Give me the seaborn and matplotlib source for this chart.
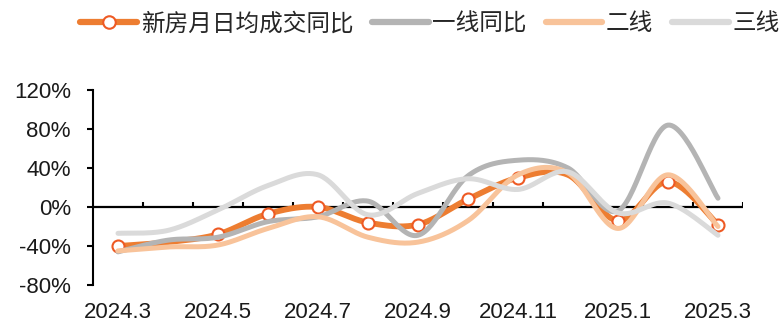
import numpy as np
import pandas as pd
import matplotlib
matplotlib.use("Agg")
import matplotlib.pyplot as plt
from matplotlib.lines import Line2D
from matplotlib.ticker import FuncFormatter
import seaborn as sns

# ---- data ----
months = ["2024.3", "2024.4", "2024.5", "2024.6", "2024.7", "2024.8", "2024.9",
          "2024.10", "2024.11", "2024.12", "2025.1", "2025.2", "2025.3"]
new_home = [-40, -36, -28, -7, 0, -16, -18, 8, 30, 33, -14, 26, -18]
tier1 = [-46, -34, -31, -15, -10, 6, -29, 32, 48, 40, -4, 84, 9]
tier2 = [-45, -41, -39, -22, -10, -31, -36, -14, 33, 35, -22, 33, -20]
tier3 = [-27, -24, -3, 22, 33, -8, 14, 29, 18, 36, -6, 4, -29]
series_names = ["新房月日均成交同比", "一线同比", "二线", "三线"]
colors = ["#ED7D31", "#B4B4B4", "#F8C39A", "#DADADA"]
marker_edge = "#EE5A24"
# markers that are hidden under the other lines in the reference
covered_markers = ["2024.4", "2024.12"]

sns.set_theme(style="white")
plt.rcParams["font.family"] = ["Liberation Sans", "Noto Sans CJK SC", "DejaVu Sans"]


def smooth(vals, n=30):
    """Bezier smoothing (Catmull-Rom style) through the data points."""
    y = np.asarray(vals, dtype=float) / 100.0
    x = np.arange(len(y), dtype=float)
    P = np.column_stack([x, y])
    out = []
    for i in range(len(P) - 1):
        p0 = P[i - 1] if i > 0 else P[i]
        p1, p2 = P[i], P[i + 1]
        p3 = P[i + 2] if i + 2 < len(P) else P[i + 1]
        c1 = p1 + (p2 - p0) / 6.0
        c2 = p2 - (p3 - p1) / 6.0
        t = np.linspace(0, 1, n, endpoint=(i == len(P) - 2))[:, None]
        seg = ((1 - t) ** 3) * p1 + 3 * ((1 - t) ** 2) * t * c1 + 3 * (1 - t) * t ** 2 * c2 + t ** 3 * p2
        out.append(seg)
    pts = np.vstack(out)
    return pd.DataFrame({"x": pts[:, 0], "y": pts[:, 1]})


fig = plt.figure(figsize=(7.84, 3.23), dpi=100)
ax = fig.add_axes([93 / 784, 1 - 285 / 323, 650 / 784, 195 / 323])

all_series = [new_home, tier1, tier2, tier3]
widths = [4.2, 3.6, 3.6, 3.6]
for k, (vals, col, lw) in enumerate(zip(all_series, colors, widths)):
    df = smooth(vals)
    sns.lineplot(data=df, x="x", y="y", sort=False, estimator=None, ax=ax,
                 color=col, linewidth=lw, zorder=2 + k * 2, solid_capstyle="round")
    if k == 0:
        pts = pd.DataFrame({"x": np.arange(len(vals)), "y": np.asarray(vals) / 100.0,
                            "m": months})
        pts = pts[~pts["m"].isin(covered_markers)]
        sns.scatterplot(data=pts, x="x", y="y", ax=ax, s=75, color="white",
                        edgecolor=marker_edge, linewidth=1.5, zorder=3)

ax.set_xlim(-0.5, len(months) - 0.5)
ax.set_ylim(-0.8, 1.2)
ax.set_yticks(np.arange(-0.8, 1.21, 0.4))
ax.yaxis.set_major_formatter(FuncFormatter(lambda v, p: f"{v*100:.0f}%"))
ax.set_xticks(range(0, len(months), 2))
ax.set_xticklabels(months[::2])
ax.set_xlabel("")
ax.set_ylabel("")

for s in ["top", "right", "bottom"]:
    ax.spines[s].set_visible(False)
ax.spines["left"].set_color("black")
ax.spines["left"].set_linewidth(1.5)
ax.axhline(0, color="black", lw=1.6, zorder=1)
ax.vlines(np.arange(0.5, len(months) - 0.4, 1.0), 0, 0.05, color="black", lw=1.5, zorder=1)

ax.tick_params(axis="y", direction="out", length=4, width=1.5, color="black",
               labelsize=16, pad=12, left=True)
ax.tick_params(axis="x", length=0, labelsize=16, pad=12, bottom=False)
for lab in ax.get_xticklabels() + ax.get_yticklabels():
    lab.set_color("#1a1a1a")

handles = [
    Line2D([], [], color=colors[0], lw=4.5, marker="o", markersize=9,
           markerfacecolor="white", markeredgecolor=marker_edge, markeredgewidth=1.5),
    Line2D([], [], color=colors[1], lw=4.5),
    Line2D([], [], color=colors[2], lw=4.5),
    Line2D([], [], color=colors[3], lw=4.5),
]
fig.legend(handles, series_names, loc="center", bbox_to_anchor=(430 / 784, 1 - 24 / 323),
           ncol=4, frameon=False, handlelength=2.4, handletextpad=0.15,
           columnspacing=0.8, prop={"family": ["Noto Sans CJK SC", "DejaVu Sans"], "size": 17})

fig.savefig("out.png", dpi=100)
